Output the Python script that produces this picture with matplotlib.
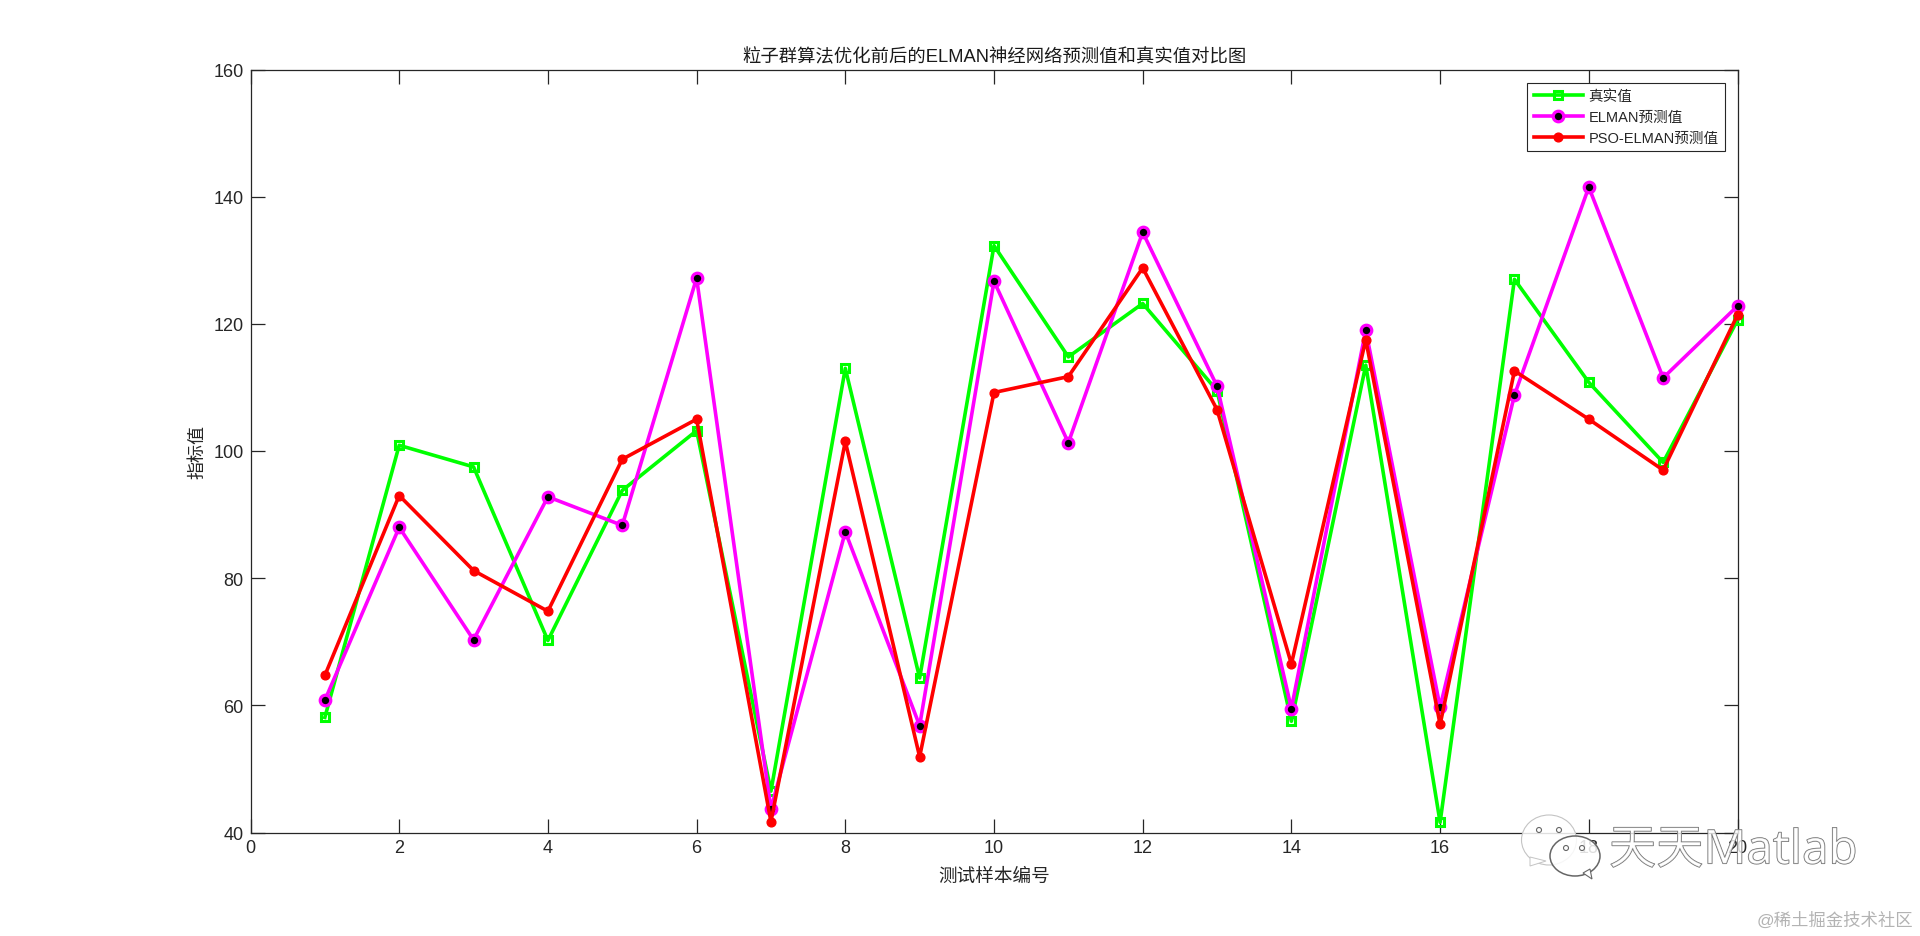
import matplotlib
matplotlib.use("Agg")
import matplotlib.pyplot as plt
import matplotlib.patheffects as pe
from matplotlib.patches import Ellipse, Polygon

FONT = ['Liberation Sans', 'Noto Sans CJK SC', 'DejaVu Sans']
plt.rcParams['font.family'] = FONT

samples = list(range(1, 21))
true_values = [58.1, 100.9, 97.5, 70.2, 93.8, 103.2, 46.5, 113.0, 64.3, 132.3,
               114.8, 123.2, 109.5, 57.5, 113.5, 41.6, 127.0, 110.8, 98.2, 120.6]
elman_values = [60.8, 88.0, 70.3, 92.8, 88.3, 127.2, 43.7, 87.3, 56.8, 126.7,
                101.3, 134.4, 110.2, 59.5, 119.0, 59.7, 108.8, 141.5, 111.5, 122.8]
pso_values = [64.7, 93.0, 81.2, 74.8, 98.7, 105.0, 41.7, 101.5, 51.9, 109.2,
              111.7, 128.8, 106.5, 66.5, 117.5, 57.0, 112.6, 105.0, 97.0, 121.4]
xticks = list(range(0, 21, 2))
yticks = list(range(40, 161, 20))
title = '粒子群算法优化前后的ELMAN神经网络预测值和真实值对比图'
xlabel = '测试样本编号'
ylabel = '指标值'
legend_labels = ['真实值', 'ELMAN预测值', 'PSO-ELMAN预测值']

W, H = 1920, 937
fig = plt.figure(figsize=(W / 100, H / 100), dpi=100, facecolor='white')
L, R, T, B = 250.5, 1737.5, 70.5, 833.5
ax = fig.add_axes([L / W, 1 - B / H, (R - L) / W, (B - T) / H])

ax.plot(samples, true_values, '-s', color='#00ff00', lw=2.6, ms=5.9, mfc='none', mew=2.2,
        label=legend_labels[0], clip_on=False, zorder=3)
ax.plot(samples, elman_values, '-o', color='#ff00ff', lw=2.6, ms=7.6, mfc='black', mew=2.3,
        label=legend_labels[1], clip_on=False, zorder=3.1)
ax.plot(samples, pso_values, '-o', color='#ff0000', lw=2.6, ms=6.3, mfc='#ff0000', mew=1,
        label=legend_labels[2], clip_on=False, zorder=3.2)

ax.set_xlim(0, 20)
ax.set_ylim(40, 160)
ax.set_xticks(xticks)
ax.set_yticks(yticks)
ax.tick_params(direction='in', length=10, width=0.9, top=True, right=True,
               labelsize=13, colors='#262626', pad=5)
for s in ax.spines.values():
    s.set_linewidth(0.9)
    s.set_color('#262626')
ax.set_title(title, fontsize=13.2, color='#1a1a1a', pad=6)
ax.set_xlabel(xlabel, fontsize=13.4, color='#262626', labelpad=8)
ax.set_ylabel(ylabel, fontsize=13, color='#262626', labelpad=5)

leg = ax.legend(loc='upper right', bbox_to_anchor=((1724.5 - L) / (R - L), 1 - (83.5 - T) / (B - T)),
                borderaxespad=0, fancybox=False, framealpha=1, edgecolor='#262626',
                fontsize=10.5, handlelength=3.4, labelspacing=0.5, borderpad=0.42,
                handletextpad=0.35, labelcolor='#262626')
leg.get_frame().set_linewidth(0.8)
leg.set_zorder(5)

# Watermark: embossed translucent bubbles and lettering over the chart
wm = fig.add_axes([0, 0, 1, 1], facecolor='none')
wm.set_xlim(0, W)
wm.set_ylim(H, 0)
wm.axis('off')
soft = (1, 1, 1, 0.85)
wm.add_patch(Ellipse((1549, 841), 55, 50, fc=soft, ec='#c4c4c4', lw=0.8))
wm.add_patch(Polygon([[1530, 858], [1530, 867], [1546, 862]], fc='white', ec='#c4c4c4', lw=0.7))
wm.add_patch(Ellipse((1575, 857), 50, 40, fc=soft, ec='#666666', lw=1.1))
wm.add_patch(Polygon([[1583, 874], [1592, 880], [1590, 870]], fc='white', ec='#666666', lw=0.8))
for cx, cy in [(1539, 831), (1559, 831), (1566, 849), (1582, 849)]:
    wm.add_patch(Ellipse((cx, cy), 5, 5, fc='white', ec='#666666', lw=0.8))
emb = [pe.Stroke(linewidth=0.8, foreground='#666666'), pe.Normal()]
wm.text(1609, 852, '天天Matlab', fontsize=34, color=(1, 1, 1, 0.55),
        family=['Noto Sans', 'Noto Sans CJK SC'], weight='light', va='center', ha='left',
        path_effects=emb)
wm.text(1913, 920, '@稀土掘金技术社区', fontsize=12.5, color='#b3b3b3', va='center', ha='right')

fig.savefig('out.png', dpi=100, facecolor='white')
